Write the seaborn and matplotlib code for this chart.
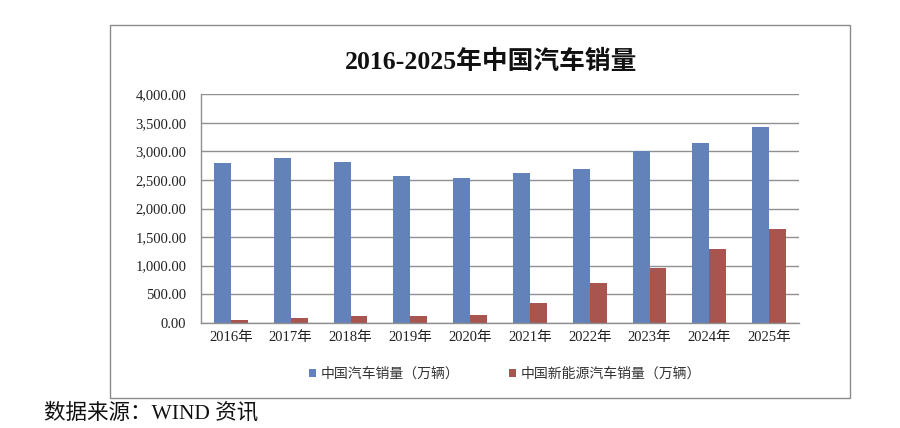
import matplotlib
matplotlib.use("Agg")
import matplotlib.pyplot as plt
import matplotlib.patches as mpatches
from matplotlib.ticker import FuncFormatter
import seaborn as sns
import pandas as pd

# 数据（万辆）
years = ["2016年", "2017年", "2018年", "2019年", "2020年",
         "2021年", "2022年", "2023年", "2024年", "2025年"]
total_sales = [2803, 2888, 2808, 2577, 2531, 2627, 2686, 3009, 3144, 3434]
nev_sales = [51, 78, 126, 121, 137, 352, 689, 950, 1287, 1647]
series_names = ["中国汽车销量（万辆）", "中国新能源汽车销量（万辆）"]
colors = ["#6482BA", "#A9554F"]

df = pd.DataFrame({
    "year": years * 2,
    "sales": total_sales + nev_sales,
    "series": [series_names[0]] * len(years) + [series_names[1]] * len(years),
})

sns.set_style("white")
plt.rcParams["font.family"] = ["Liberation Serif", "Noto Sans CJK SC", "DejaVu Sans"]

fig = plt.figure(figsize=(9, 4.28), dpi=100)
ax = fig.add_axes([201 / 900, 105.3 / 428, 598 / 900, 228.3 / 428])

sns.barplot(data=df, x="year", y="sales", hue="series", palette=colors,
            width=0.567, saturation=1, gap=0, linewidth=0, ax=ax, legend=True)

ax.set_ylim(0, 4000)
ax.set_yticks(range(0, 4001, 500))
ax.yaxis.set_major_formatter(FuncFormatter(lambda v, p: f"{v:,.2f}"))
ax.set_xlabel("")
ax.set_ylabel("")
ax.set_axisbelow(True)
ax.yaxis.grid(True, color="#8f8f8f", lw=1)
ax.tick_params(length=0, labelsize=10.5, colors="#222222")
ax.tick_params(axis="y", pad=10.5)
ax.tick_params(axis="x", pad=6)
for s in ["top", "right"]:
    ax.spines[s].set_visible(False)
for s in ["left", "bottom"]:
    ax.spines[s].set_color("#8f8f8f")
    ax.spines[s].set_linewidth(1)

handles, labels = ax.get_legend_handles_labels()
ax.legend_.remove()
fig.legend(handles, labels, loc="center", bbox_to_anchor=(505 / 900, 1 - 374 / 428),
           ncol=2, frameon=False, fontsize=10, handlelength=0.5, handleheight=0.5,
           handletextpad=0.3, columnspacing=3.6, labelcolor="#333333")

fig.text(491 / 900, 1 - 62 / 428, "2016-2025年中国汽车销量", ha="center", va="center",
         fontsize=18.5, fontweight="bold", color="#111111")

# 外框
fig.patches.append(mpatches.Rectangle((110 / 900, 30 / 428), 740 / 900, 373 / 428,
                                      transform=fig.transFigure, fill=False,
                                      edgecolor="#8a8a8a", lw=1))

fig.text(44 / 900, 1 - 413 / 428, "数据来源：WIND 资讯", ha="left", va="center",
         fontsize=15.5, color="#111111")

fig.savefig("out.png", dpi=100)
